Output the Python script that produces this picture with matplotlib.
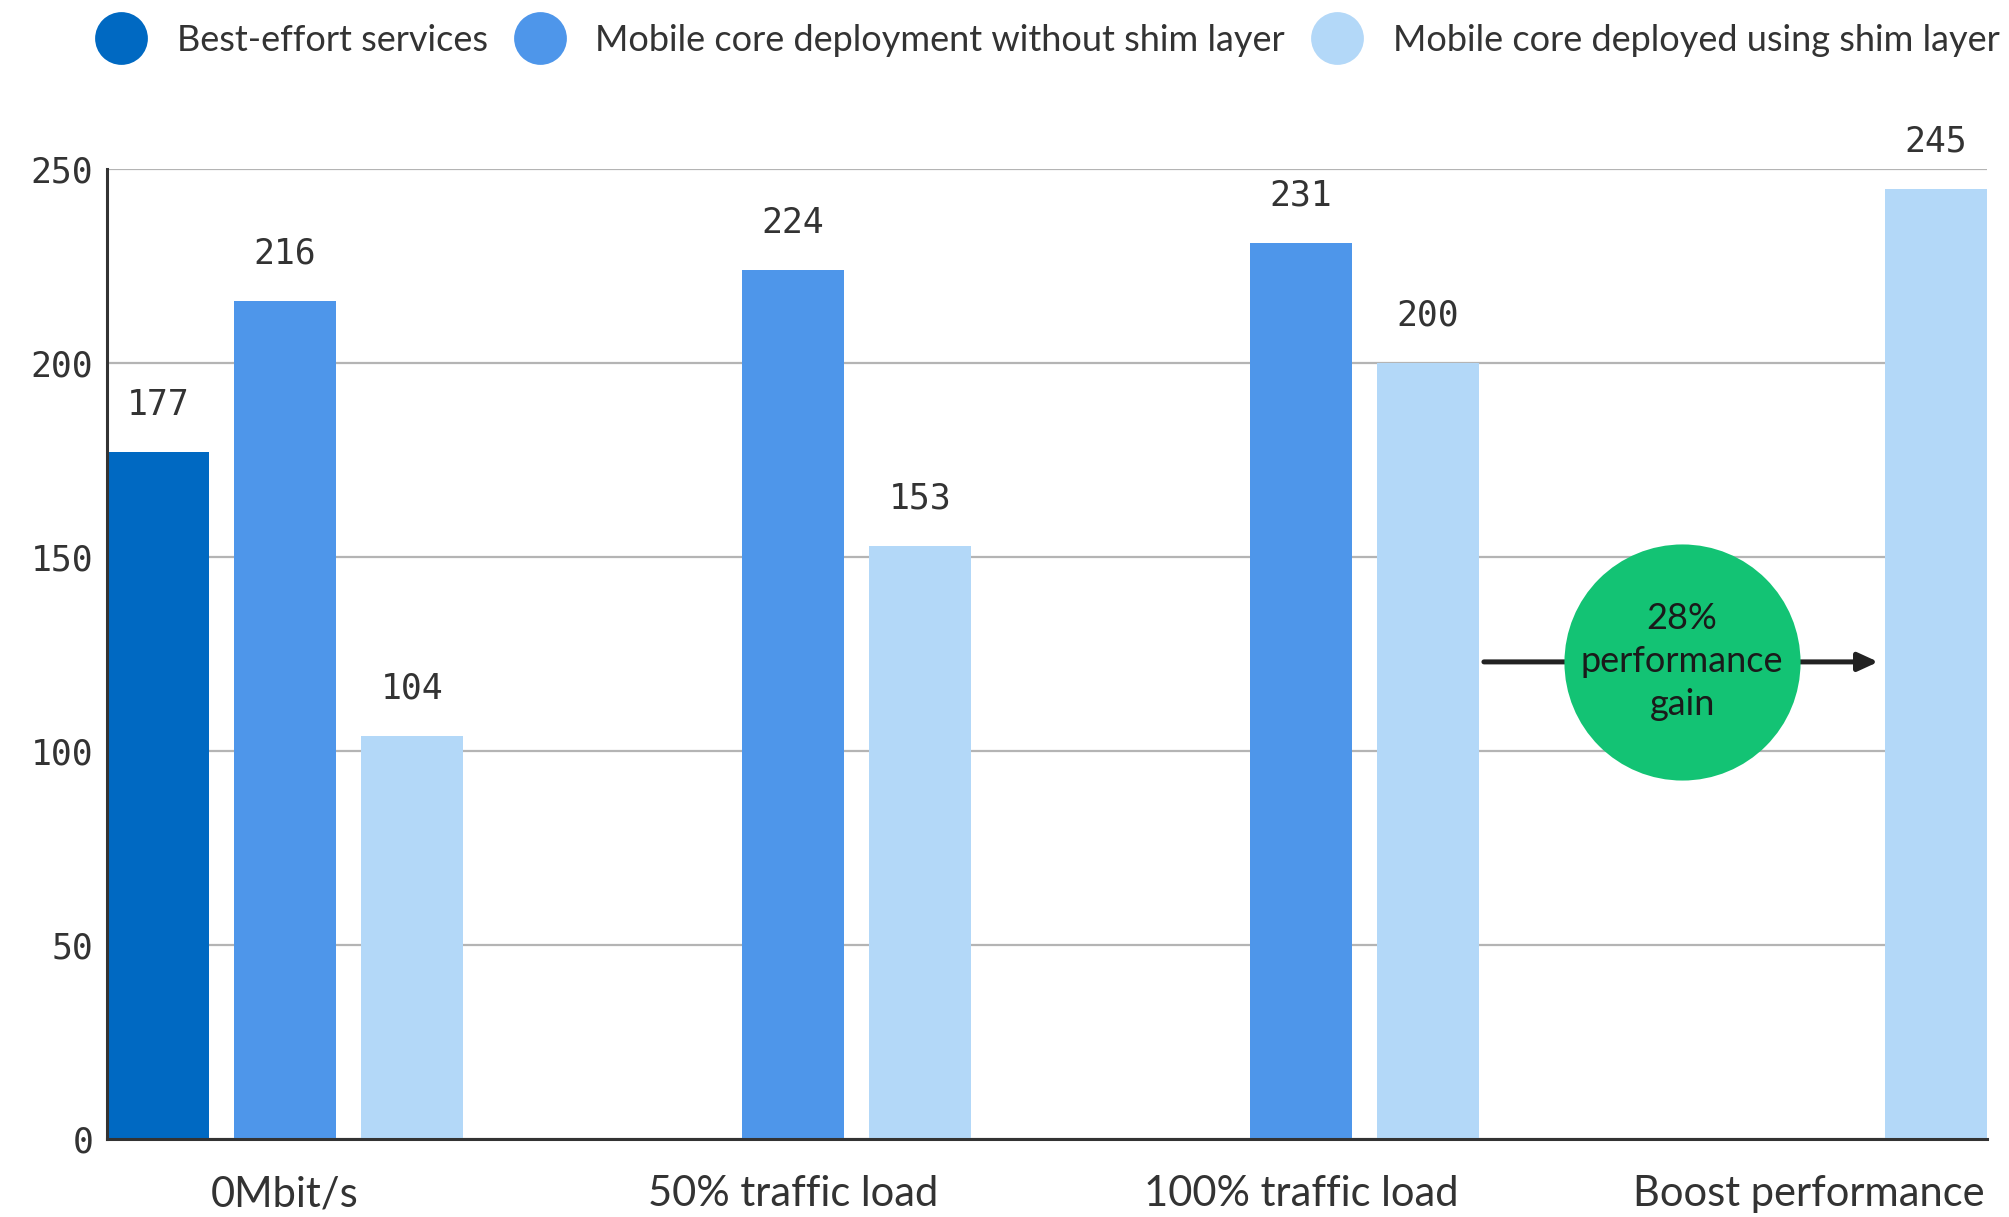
import numpy as np
import matplotlib.pyplot as plt
from matplotlib.lines import Line2D

# data
categories = ['0Mbit/s', '50% traffic load', '100% traffic load', 'Boost performance']
series_names = ['Best-effort services',
                'Mobile core deployment without shim layer',
                'Mobile core deployed using shim layer']
best_effort = [177, np.nan, np.nan, np.nan]
no_shim = [216, 224, 231, np.nan]
with_shim = [104, 153, 200, 245]
gain_text = '28%\nperformance\ngain'

colors = ['#0069c2', '#4e96ea', '#b3d8f8']
text_col = '#333333'
label_font = ['Lato', 'DejaVu Sans']
num_font = 'DejaVu Sans Mono'

fig = plt.figure(figsize=(20.09, 12.17), dpi=100)
ax = fig.add_axes([0.0533, 0.064, 0.9357, 0.797])

x = np.arange(len(categories))
offsets = [-0.25, 0.0, 0.25]
width = 0.2
for vals, off, c in zip([best_effort, no_shim, with_shim], offsets, colors):
    for xi, v in zip(x, vals):
        if np.isnan(v):
            continue
        ax.bar(xi + off, v, width=width, color=c, zorder=2)
        ax.annotate(str(v), (xi + off, v), xytext=(0, 34), textcoords='offset points',
                    ha='center', va='center', fontsize=25, family=num_font,
                    color=text_col, annotation_clip=False)

ax.set_xlim(-0.35, 3.35)
ax.set_ylim(0, 250)
ax.set_yticks([0, 50, 100, 150, 200, 250])
ax.set_xticks(x)
ax.set_xticklabels(categories, fontsize=30, family=label_font, color=text_col)
for lab in ax.get_yticklabels():
    lab.set_family(num_font)
ax.tick_params(axis='y', length=0, pad=10, labelsize=25, labelcolor=text_col)
ax.tick_params(axis='x', length=0, pad=26)
ax.grid(axis='y', color='#b4b4b4', linewidth=1.6, zorder=0)
ax.set_axisbelow(True)
for s in ['top', 'right']:
    ax.spines[s].set_visible(False)
for s in ['left', 'bottom']:
    ax.spines[s].set_color('#333333')
    ax.spines[s].set_linewidth(2.2)
    ax.spines[s].set_zorder(3)

# gain marker with arrow
gx, gy = 2.75, 123
ax.annotate('', xy=(3.136, gy), xytext=(2.36, gy),
            arrowprops=dict(arrowstyle='-|>,head_length=1.2,head_width=0.55',
                            color='#222222', lw=3.6, shrinkA=0, shrinkB=0), zorder=4)
ax.plot([gx], [gy], 'o', markersize=170, color='#13c374', markeredgewidth=0, zorder=5)
ax.text(gx, gy, gain_text, ha='center', va='center', fontsize=26, family=label_font,
        color='#1a1a1a', linespacing=1.37, zorder=6)

handles = [Line2D([], [], marker='o', linestyle='', markersize=38, color=c,
                  markeredgewidth=0) for c in colors]
fig.legend(handles, series_names, loc='center', bbox_to_anchor=(0.5215, 0.967),
           ncol=3, frameon=False, prop={'family': label_font, 'size': 26},
           labelcolor=text_col, handlelength=1.4, handletextpad=0.83,
           columnspacing=0.75, borderaxespad=0.0, borderpad=0.0)

fig.savefig('out.png', dpi=100)
